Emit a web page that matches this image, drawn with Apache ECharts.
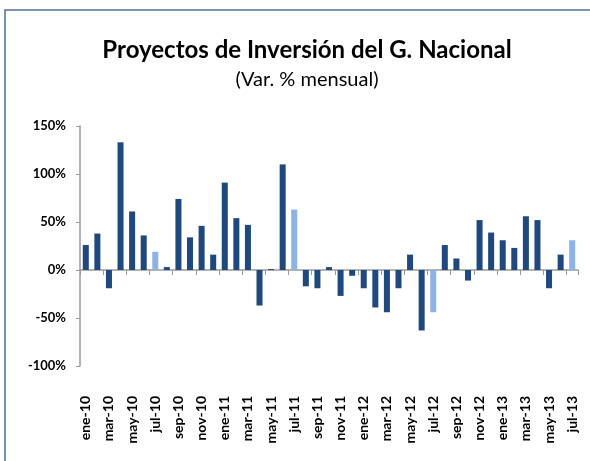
<!DOCTYPE html>
<html>
<head>
<meta charset="utf-8">
<script src="https://cdn.jsdelivr.net/npm/echarts@6/dist/echarts.min.js"></script>
<style>
  html, body { margin: 0; padding: 0; background: #ffffff; }
  #chart { width: 590px; height: 461px; }
</style>
</head>
<body>
<div id="chart"></div>
<script>
// Meses (ene-10 a jul-13)
const meses = [
  'ene-10','feb-10','mar-10','abr-10','may-10','jun-10','jul-10','ago-10','sep-10','oct-10','nov-10','dic-10',
  'ene-11','feb-11','mar-11','abr-11','may-11','jun-11','jul-11','ago-11','sep-11','oct-11','nov-11','dic-11',
  'ene-12','feb-12','mar-12','abr-12','may-12','jun-12','jul-12','ago-12','sep-12','oct-12','nov-12','dic-12',
  'ene-13','feb-13','mar-13','abr-13','may-13','jun-13','jul-13'
];

// Variación % mensual
const variacion = [
  26, 38, -19, 133, 61, 36, 19, 3, 74, 34, 46, 16,
  91, 54, 47, -37, 1, 110, 63, -17, -19, 3, -27, -6,
  -19, -39, -44, -19, 16, -63, -44, 26, 12, -11, 52, 39,
  31, 23, 56, 52, -19, 16, 31
];

// Meses resaltados en color claro
const resaltados = ['jul-10', 'jul-11', 'jul-12', 'jul-13'];

// Marcas del eje vertical
const ticksY = [-100, -50, 0, 50, 100, 150];

const COLOR_OSCURO = '#1f497d';
const COLOR_CLARO = '#8db3e2';
const FUENTE = 'Lato, "Liberation Sans", sans-serif';

const datosBarras = variacion.map((v, i) => ({
  value: v,
  itemStyle: { color: resaltados.includes(meses[i]) ? COLOR_CLARO : COLOR_OSCURO }
}));

const chart = echarts.init(document.getElementById('chart'), null, { renderer: 'canvas' });

chart.setOption({
  animation: false,
  backgroundColor: '#ffffff',
  graphic: [{
    type: 'rect',
    shape: { x: 5, y: 10, width: 700, height: 600 },
    style: { fill: 'none', stroke: '#4f6f9f', lineWidth: 1.5 },
    silent: true,
    z: 0
  }],
  title: [{
    text: 'Proyectos de Inversión del G. Nacional',
    left: 302, top: 33, textAlign: 'center',
    textStyle: { fontFamily: FUENTE, fontWeight: 'bold', fontSize: 24, color: '#000000' }
  }, {
    text: '(Var. % mensual)',
    left: 302, top: 65, textAlign: 'center',
    textStyle: { fontFamily: FUENTE, fontWeight: 'normal', fontSize: 20, color: '#000000' }
  }],
  grid: { left: 80, right: 12, top: 126, bottom: 95, containLabel: false },
  xAxis: [{
    type: 'category',
    data: meses,
    position: 'bottom',
    axisLine: { show: false, onZero: false },
    axisTick: { show: false },
    axisLabel: {
      interval: 1, rotate: 90, margin: 30,
      fontFamily: FUENTE, fontWeight: 'bold', fontSize: 14, color: '#000000'
    },
    splitLine: { show: false }
  }, {
    type: 'category',
    data: meses,
    position: 'bottom',
    axisLine: { show: true, onZero: true, lineStyle: { color: '#9a9a9a', width: 1.5 } },
    axisTick: { show: true, interval: 1, length: 5, lineStyle: { color: '#9a9a9a', width: 1 } },
    axisLabel: { show: false },
    splitLine: { show: false }
  }],
  yAxis: {
    type: 'value',
    min: ticksY[0], max: ticksY[ticksY.length - 1], interval: 50,
    axisLine: { show: true, lineStyle: { color: '#9a9a9a', width: 1.5 } },
    axisTick: { show: true, length: 4, lineStyle: { color: '#9a9a9a' } },
    axisLabel: {
      margin: 14,
      formatter: '{value}%',
      fontFamily: FUENTE, fontWeight: 'bold', fontSize: 13, color: '#000000'
    },
    splitLine: { show: false }
  },
  series: [{
    type: 'bar',
    xAxisIndex: 0,
    data: datosBarras,
    barWidth: '52%'
  }]
});
</script>
</body>
</html>
